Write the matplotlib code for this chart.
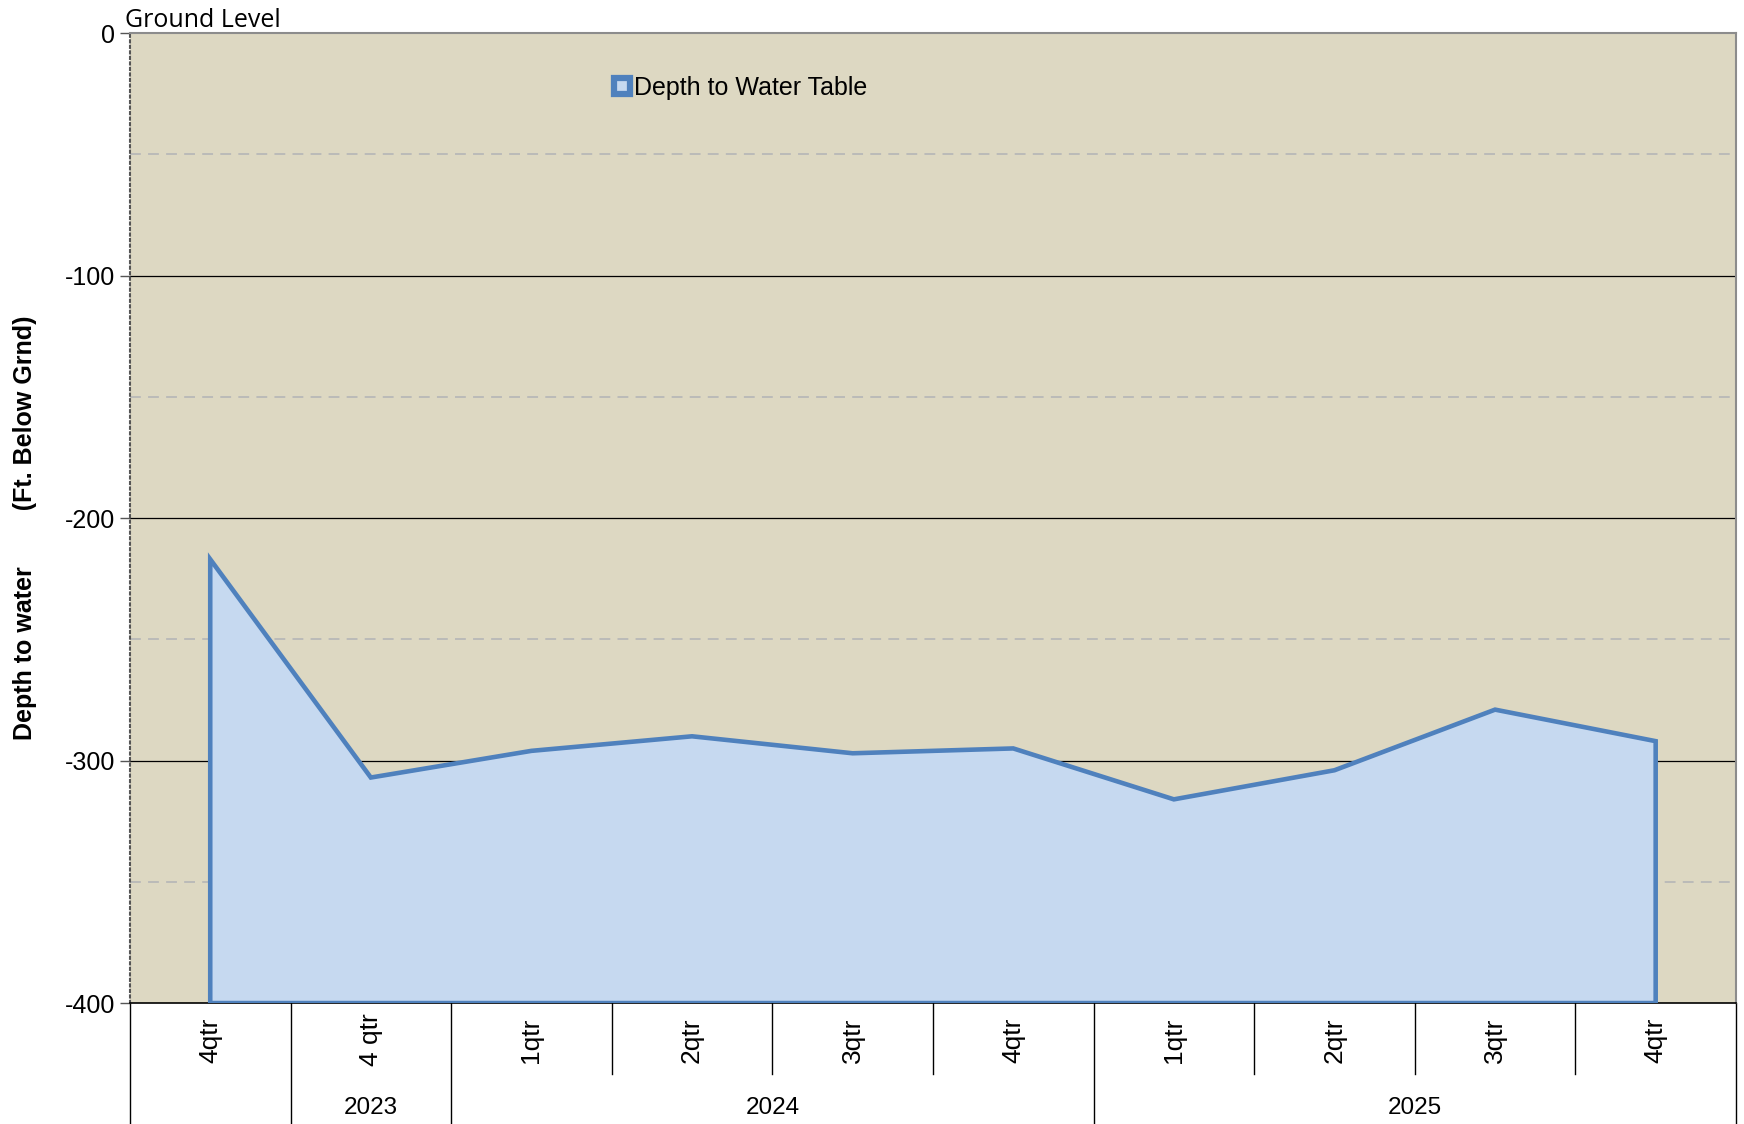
import matplotlib
matplotlib.use('Agg')
import matplotlib.pyplot as plt
import matplotlib.transforms as mtransforms
from matplotlib.lines import Line2D

plt.rcParams['axes.unicode_minus'] = False
plt.rcParams['font.family'] = ['Liberation Sans', 'DejaVu Sans']

# data
quarters = ['4qtr', '4 qtr', '1qtr', '2qtr', '3qtr', '4qtr', '1qtr', '2qtr', '3qtr', '4qtr']
depth = [-217, -307, -296, -290, -297, -295, -316, -304, -279, -292]
years = ['', '2023', '2024', '2025']
year_spans = [(0, 1), (1, 2), (2, 6), (6, 10)]

fig = plt.figure(figsize=(17.44, 11.24), dpi=100)
ax = fig.add_axes([0.0745, 0.1076, 0.9209, 0.863])
ax.set_facecolor('#DDD8C2')

xs = [i + 0.5 for i in range(len(depth))]
ymin = -400
poly_x = [xs[0]] + xs + [xs[-1]]
poly_y = [ymin] + depth + [ymin]
ax.fill(poly_x, poly_y, facecolor='#C6D9F0', edgecolor='#4F81BD', lw=3.3,
        joinstyle='miter', zorder=3)

ax.set_xlim(0, len(depth))
ax.set_ylim(-400, 0)
ax.set_yticks([0, -100, -200, -300, -400])
ax.tick_params(axis='y', labelsize=18, length=7, color='#555555', width=1)
ax.tick_params(axis='x', bottom=False, labelbottom=False)

# gridlines
for v in [-100, -200, -300]:
    ax.axhline(v, color='black', lw=0.9, zorder=1)
for v in [-50, -150, -250, -350]:
    ax.axhline(v, color='#B8B8B8', lw=1.3, ls=(0, (6, 4)), zorder=1)

ax.spines['left'].set_linestyle(':')
ax.spines['left'].set_color('#555555')
ax.spines['left'].set_linewidth(1.5)
ax.spines['top'].set_color('#8C8C8C')
ax.spines['right'].set_color('#8C8C8C')
ax.spines['top'].set_linewidth(1.5)
ax.spines['right'].set_linewidth(1.5)
ax.spines['bottom'].set_color('black')
ax.spines['bottom'].set_linewidth(1.2)

# category axis with quarter and year levels
trans = mtransforms.blended_transform_factory(ax.transData, ax.transAxes)
year_edges = {s for span in year_spans for s in span}
for b in range(len(depth) + 1):
    bottom = -0.124 if b in year_edges else -0.0732
    ax.add_line(Line2D([b, b], [0, bottom], transform=trans, color='black',
                       lw=1, clip_on=False))
for x, q in zip(xs, quarters):
    ax.text(x, -0.038, q, transform=trans, rotation=90, ha='center', va='center',
            fontsize=19)
for yr, (a, b) in zip(years, year_spans):
    if yr:
        ax.text((a + b) / 2, -0.108, yr, transform=trans, ha='center', va='center',
                fontsize=17.5)

ax.set_ylabel('Depth to water        (Ft. Below Grnd)', fontsize=18,
              fontweight='bold')
ax.yaxis.set_label_coords(-0.058, 0.49)

ax.text(-0.003, 1.0, 'Ground Level', transform=ax.transAxes, ha='left',
        va='bottom', fontsize=18, family=['Open Sans', 'DejaVu Sans'])

leg_handle = Line2D([], [], marker='s', ls='none', markersize=12,
                    markerfacecolor='#C6D9F0', markeredgecolor='#4F81BD',
                    markeredgewidth=4.5)
ax.legend([leg_handle], ['Depth to Water Table'], loc='upper left',
          bbox_to_anchor=(0.2875, 0.979), frameon=False, fontsize=18,
          handlelength=0.6, handletextpad=0.2)

fig.savefig('out.png', dpi=100)
